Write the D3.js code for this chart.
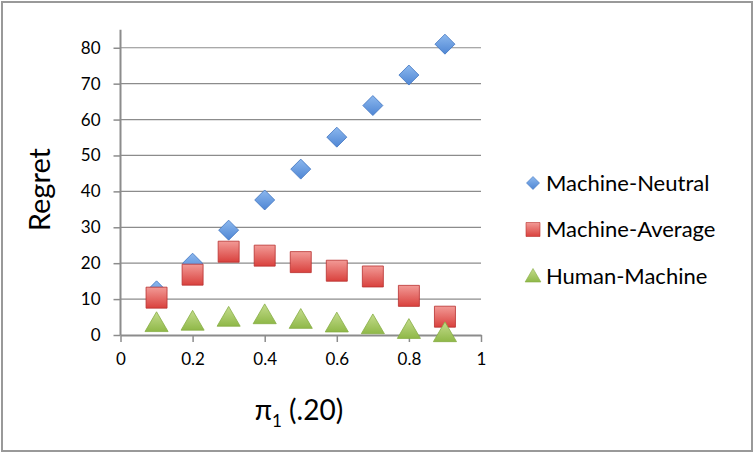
<!DOCTYPE html>
<html>
<head>
<meta charset="utf-8">
<script src="https://cdn.jsdelivr.net/npm/d3@7"></script>
<style>
  body { margin: 0; background: #fff; }
  svg { display: block; font-family: Lato, "Open Sans", sans-serif; }
</style>
</head>
<body>
<script>
// values
const xs = [0.1, 0.2, 0.3, 0.4, 0.5, 0.6, 0.7, 0.8, 0.9];
const machineNeutral = [12.3, 20, 29.2, 37.6, 46.2, 55.1, 63.9, 72.4, 81];
const machineAverage = [10.4, 16.8, 23.2, 22.1, 20.3, 17.9, 16.3, 10.9, 5.1];
const humanMachine = [3.4, 3.8, 4.9, 5.6, 4.3, 3.3, 2.8, 1.5, 0.6];
const seriesNames = ["Machine-Neutral", "Machine-Average", "Human-Machine"];
const yTicks = [0, 10, 20, 30, 40, 50, 60, 70, 80];
const xTicks = [0, 0.2, 0.4, 0.6, 0.8, 1];

const width = 755, height = 455;

const svg = d3.select("body")
              .append("svg")
              .attr("width", width)
              .attr("height", height);

// outer frame
svg.append("rect")
   .attr("x", 2).attr("y", 2)
   .attr("width", 750).attr("height", 449)
   .attr("fill", "#fff")
   .attr("stroke", "#999")
   .attr("stroke-width", 2);

const defs = svg.append("defs");
function grad(id, top, bottom) {
  const g = defs.append("linearGradient")
    .attr("id", id).attr("x1", 0).attr("y1", 0).attr("x2", 0).attr("y2", 1);
  g.append("stop").attr("offset", "0%").attr("stop-color", top);
  g.append("stop").attr("offset", "100%").attr("stop-color", bottom);
}
grad("gBlue", "#8cb8ee", "#4f86d4");
grad("gRed", "#f29a96", "#d9413d");
grad("gGreen", "#c4dc8c", "#8fb848");

const xScale = d3.scaleLinear().domain([0, 1]).range([120.5, 481]);
const yScale = d3.scaleLinear().domain([0, 85]).range([335, 29.8]);

// gridlines
svg.append("g")
   .selectAll("line")
   .data(yTicks.slice(1))
   .enter()
   .append("line")
   .attr("x1", xScale(0)).attr("x2", xScale(1))
   .attr("y1", d => yScale(d)).attr("y2", d => yScale(d))
   .attr("stroke", "#8c8c8c")
   .attr("stroke-width", 1.2);

const yAxis = svg.append("g")
  .attr("transform", `translate(${xScale(0)},0)`)
  .call(d3.axisLeft(yScale).tickValues(yTicks).tickSize(7).tickPadding(13).tickSizeOuter(0));

const xAxis = svg.append("g")
  .attr("transform", `translate(0,${yScale(0)})`)
  .call(d3.axisBottom(xScale).tickValues(xTicks).tickSize(7).tickPadding(14)
        .tickFormat(d => d3.format("")(d)).tickSizeOuter(0));

[yAxis, xAxis].forEach(a => {
  a.attr("font-family", null).attr("font-size", null);
  a.select(".domain").attr("stroke", "#8c8c8c").attr("stroke-width", 2);
  a.selectAll(".tick line").attr("stroke", "#8c8c8c").attr("stroke-width", 1.5);
  a.selectAll(".tick text").attr("fill", "#000").style("font-size", "17px");
});
xAxis.selectAll(".tick text").attr("dy", "0.5em");
yAxis.select(".domain").attr("d", `M0,${yScale(0)}V${yScale(85)}`);

// axis titles
svg.append("text")
   .attr("transform", `translate(43,${yScale(40.5)}) rotate(-90)`)
   .attr("text-anchor", "middle")
   .attr("dominant-baseline", "middle")
   .style("font-size", "29px")
   .text("Regret");

const xt = svg.append("text")
   .attr("x", 299).attr("y", 420)
   .attr("text-anchor", "middle")
   .style("font-size", "28px");
xt.append("tspan").text("π");
xt.append("tspan").attr("dy", 7).style("font-size", "17px").text("1");
xt.append("tspan").attr("dy", -7).text(" (.20)");

// markers
const diamond = s => `M0,${-s}L${s},0L0,${s}L${-s},0Z`;
const square = s => `M${-s},${-s}H${s}V${s}H${-s}Z`;
const triangle = s => `M0,${-s}L${s * 1.05},${s * 0.8}H${-s * 1.05}Z`;

const series = [
  { name: seriesNames[0], values: machineNeutral, shape: diamond(10), fill: "url(#gBlue)", stroke: "#3f74c0" },
  { name: seriesNames[1], values: machineAverage, shape: square(10.5), fill: "url(#gRed)", stroke: "#b8302e" },
  { name: seriesNames[2], values: humanMachine, shape: triangle(11), fill: "url(#gGreen)", stroke: "#86ad44" }
];

series.forEach(s => {
  svg.append("g")
     .selectAll("path")
     .data(s.values)
     .enter()
     .append("path")
     .attr("transform", (d, i) => `translate(${xScale(xs[i])},${yScale(d)})`)
     .attr("d", s.shape)
     .attr("fill", s.fill)
     .attr("stroke", s.stroke)
     .attr("stroke-width", 0.8);
});

// legend
const legendMarks = [diamond(6.5), square(7), triangle(7.5)];
const legend = svg.append("g").attr("transform", "translate(533,183)");
series.forEach((s, i) => {
  const row = legend.append("g").attr("transform", `translate(0,${i * 46.5})`);
  row.append("path")
     .attr("d", legendMarks[i])
     .attr("fill", s.fill)
     .attr("stroke", s.stroke)
     .attr("stroke-width", 0.6);
  row.append("text")
     .attr("x", 13)
     .attr("dy", "0.36em")
     .style("font-size", "22px")
     .text(s.name);
});
</script>
</body>
</html>
